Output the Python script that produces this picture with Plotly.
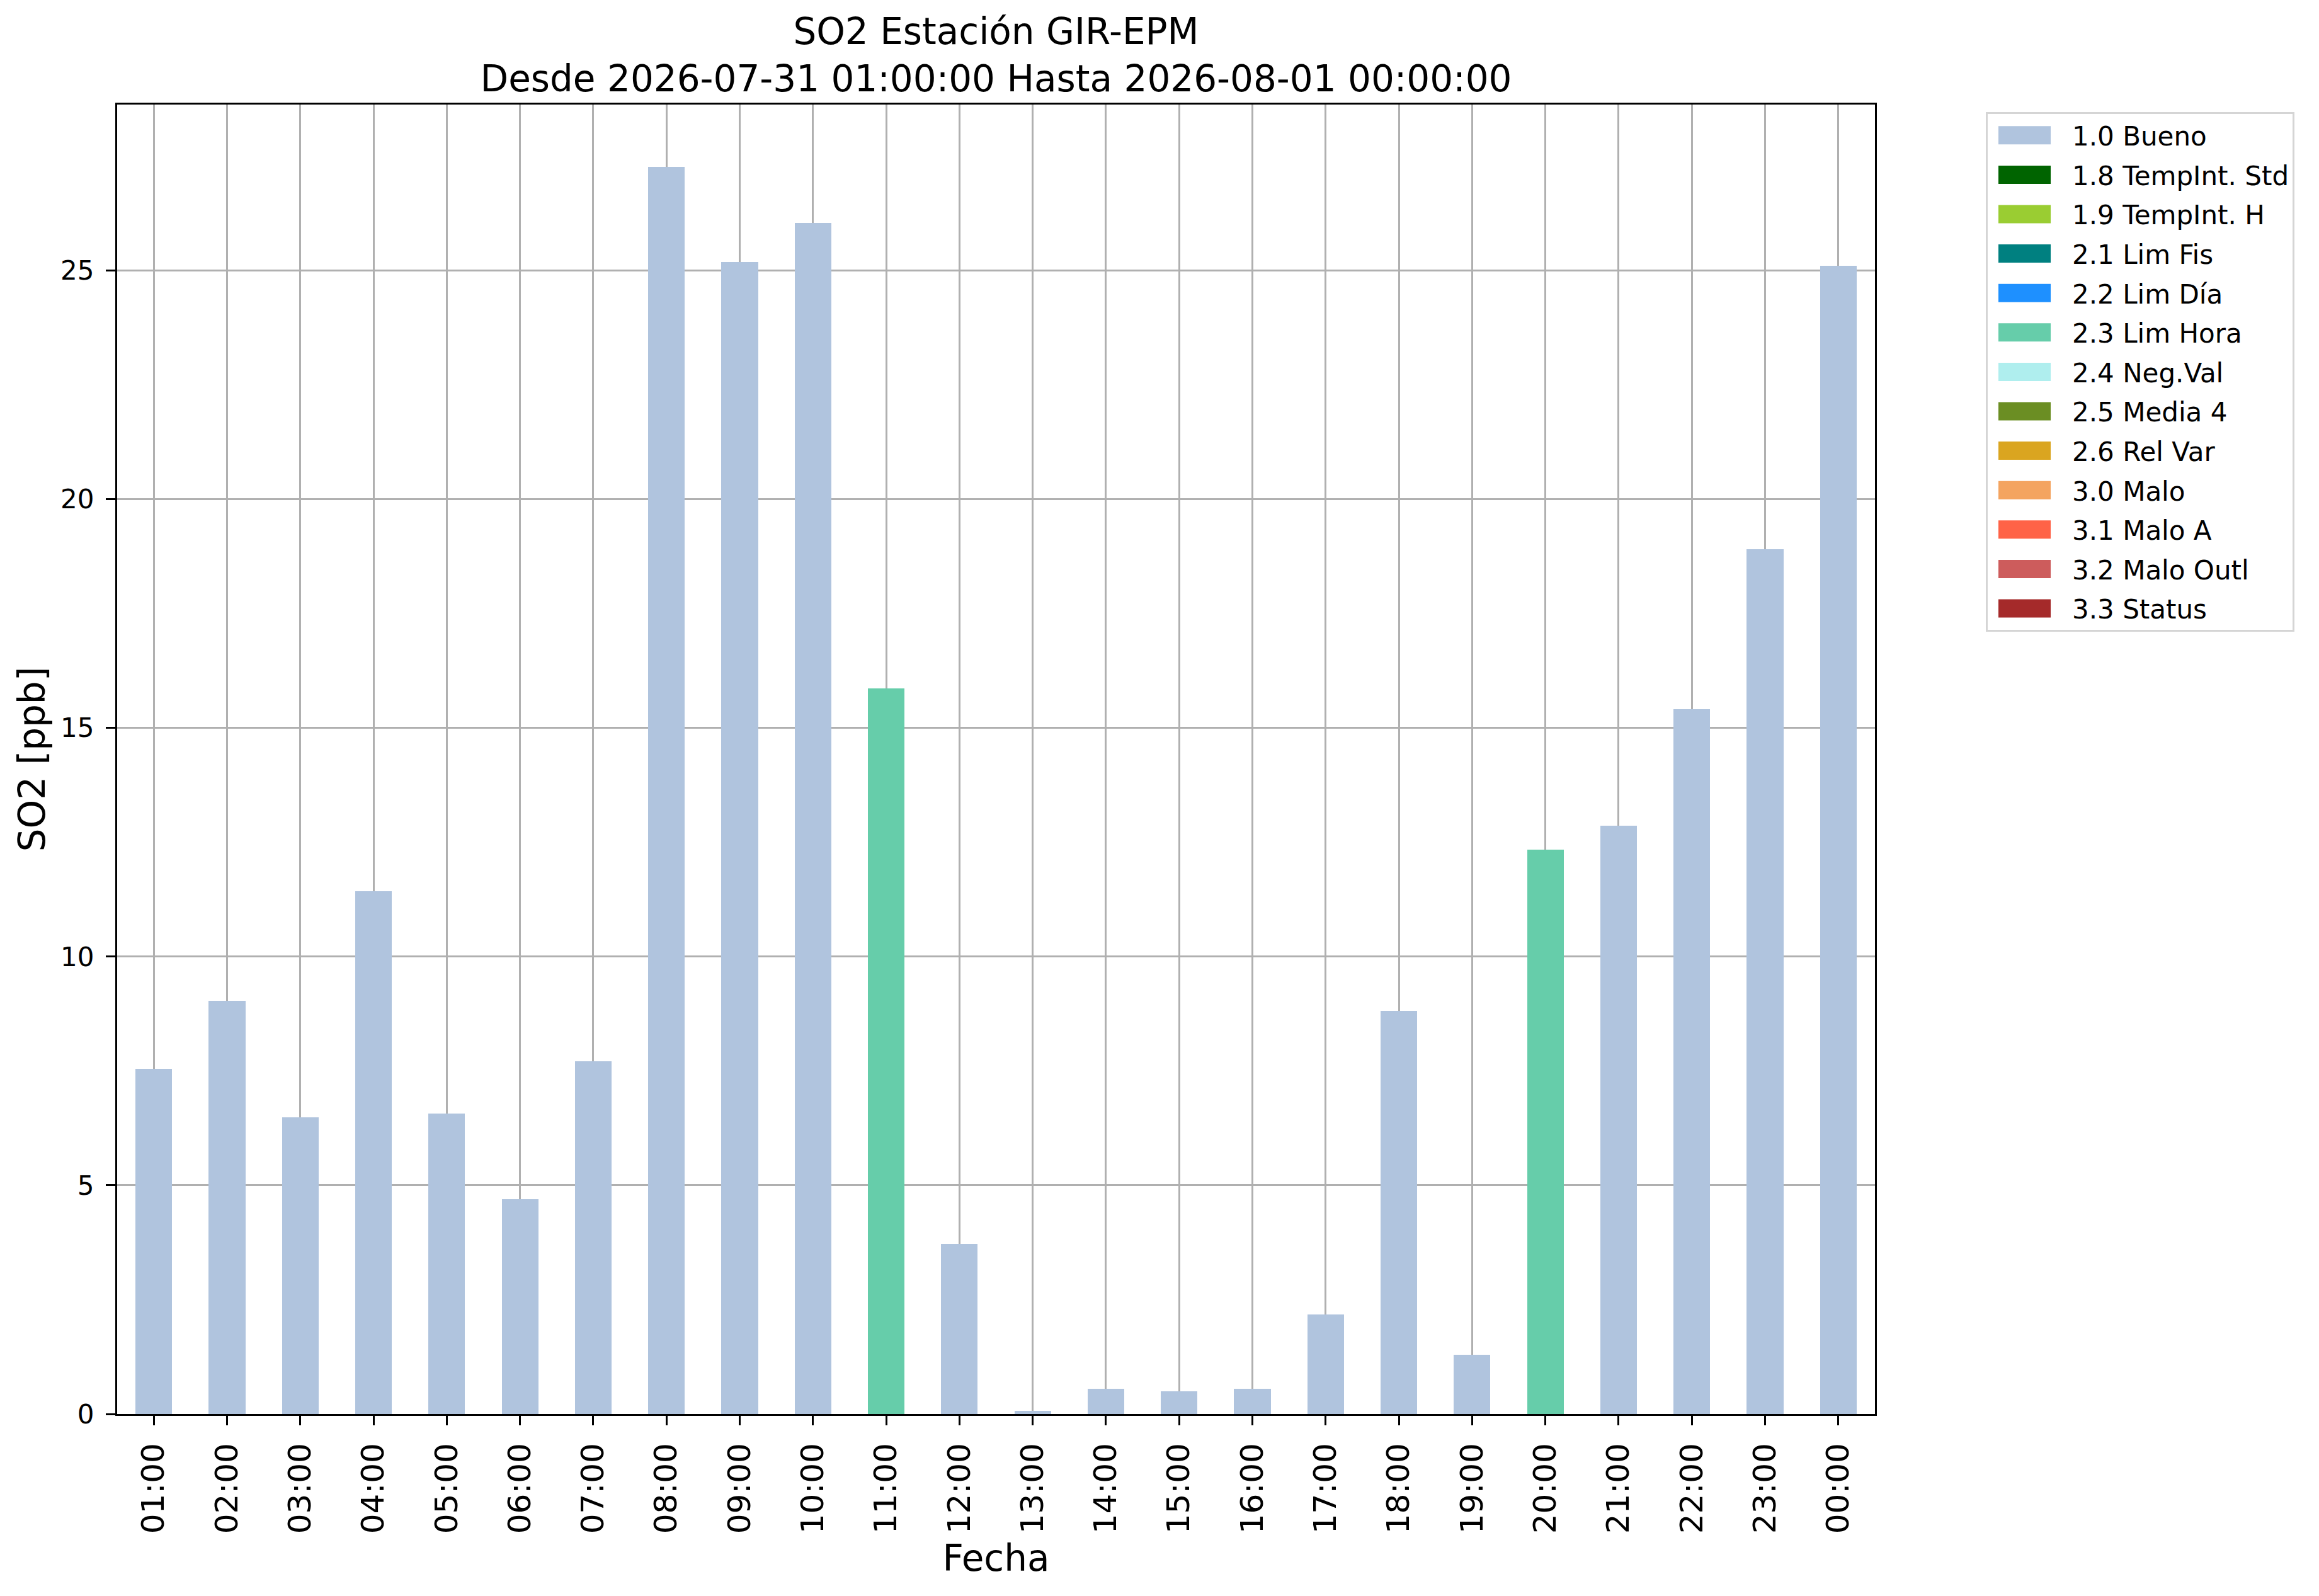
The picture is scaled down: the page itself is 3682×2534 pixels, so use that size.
import plotly.graph_objects as go

# horas del periodo y concentracion horaria de SO2 [ppb]
hours = [
    "01:00", "02:00", "03:00", "04:00", "05:00", "06:00", "07:00", "08:00",
    "09:00", "10:00", "11:00", "12:00", "13:00", "14:00", "15:00", "16:00",
    "17:00", "18:00", "19:00", "20:00", "21:00", "22:00", "23:00", "00:00",
]
so2 = [
    7.55, 9.03, 6.48, 11.43, 6.57, 4.70, 7.71, 27.27,
    25.19, 26.04, 15.87, 3.72, 0.07, 0.55, 0.49, 0.55,
    2.17, 8.81, 1.30, 12.34, 12.86, 15.41, 18.91, 25.10,
]
# bandera de calidad de cada hora
flags = [
    "1.0 Bueno", "1.0 Bueno", "1.0 Bueno", "1.0 Bueno", "1.0 Bueno", "1.0 Bueno",
    "1.0 Bueno", "1.0 Bueno", "1.0 Bueno", "1.0 Bueno", "2.3 Lim Hora", "1.0 Bueno",
    "1.0 Bueno", "1.0 Bueno", "1.0 Bueno", "1.0 Bueno", "1.0 Bueno", "1.0 Bueno",
    "1.0 Bueno", "2.3 Lim Hora", "1.0 Bueno", "1.0 Bueno", "1.0 Bueno", "1.0 Bueno",
]

flag_labels = [
    "1.0 Bueno", "1.8 TempInt. Std", "1.9 TempInt. H", "2.1 Lim Fis",
    "2.2 Lim Día", "2.3 Lim Hora", "2.4 Neg.Val", "2.5 Media 4",
    "2.6 Rel Var", "3.0 Malo", "3.1 Malo A", "3.2 Malo Outl", "3.3 Status",
]
flag_colors = [
    "#b0c4de", "#006400", "#9acd32", "#008080",
    "#1e90ff", "#66cdaa", "#afeeee", "#6b8e23",
    "#daa520", "#f4a460", "#ff6347", "#cd5c5c", "#a52a2a",
]

FONT = "DejaVu Sans"
W, H = 3682, 2534

fig = go.Figure()
for label, color in zip(flag_labels, flag_colors):
    # una columna por bandera, como en el grafico apilado de pandas
    y = [v if f == label else 0 for v, f in zip(so2, flags)]
    fig.add_trace(go.Bar(
        x=hours,
        y=y,
        name=label,
        legendgroup=label,
        width=0.5,
        marker=dict(color=color, line=dict(width=0)),
    ))

axis_common = dict(
    showline=True,
    linecolor="black",
    linewidth=3.3,
    mirror=True,
    ticks="outside",
    ticklen=15,
    tickwidth=3.3,
    tickcolor="black",
    showgrid=True,
    gridcolor="#b0b0b0",
    gridwidth=3.3,
    zeroline=False,
    layer="above traces",
)

fig.update_layout(
    width=W,
    height=H,
    autosize=False,
    barmode="stack",
    plot_bgcolor="white",
    paper_bgcolor="white",
    font=dict(family=FONT, color="black"),
    margin=dict(l=186, r=W - 2977, t=166, b=H - 2245),
    title=dict(
        text="SO2 Estación GIR-EPM<br>Desde 2026-07-31 01:00:00 Hasta 2026-08-01 00:00:00",
        font=dict(family=FONT, size=58, color="black"),
        x=0.5,
        xref="paper",
        xanchor="center",
        y=1 - 70 / H,
        yref="container",
        yanchor="middle",
    ),
    xaxis=dict(
        axis_common,
        type="category",
        range=[-0.5, 23.5],
        tickangle=-90,
        tickfont=dict(family=FONT, size=50),
        ticklabelstandoff=8,
        title=dict(text="Fecha", font=dict(family=FONT, size=58), standoff=20),
    ),
    yaxis=dict(
        axis_common,
        range=[0, 28.63],
        dtick=5,
        tickfont=dict(family=FONT, size=42),
        ticklabelstandoff=10,
        title=dict(text="SO2 [ppb]", font=dict(family=FONT, size=58), standoff=6),
    ),
    legend=dict(
        x=(3153 - 186) / (2977 - 186),
        xanchor="left",
        y=1 - (178 - 166) / (2245 - 166),
        yanchor="top",
        bgcolor="white",
        bordercolor="#d5d5d5",
        borderwidth=3,
        font=dict(family=FONT, size=42, color="black"),
        itemwidth=124,
        tracegroupgap=5,
        traceorder="grouped",
    ),
)

post_script = """
document.body.style.margin = '0';
var gd = document.getElementById('{plot_id}');
function bigPatches() {
  gd.querySelectorAll('.legend .legendpoints path').forEach(function(p) {
    p.setAttribute('d', 'M33,14.5H-50V-14.5H33Z');
  });
}
bigPatches();
gd.on('plotly_afterplot', bigPatches);
"""

fig.write_html("out.html", post_script=post_script, config={"displayModeBar": False})
